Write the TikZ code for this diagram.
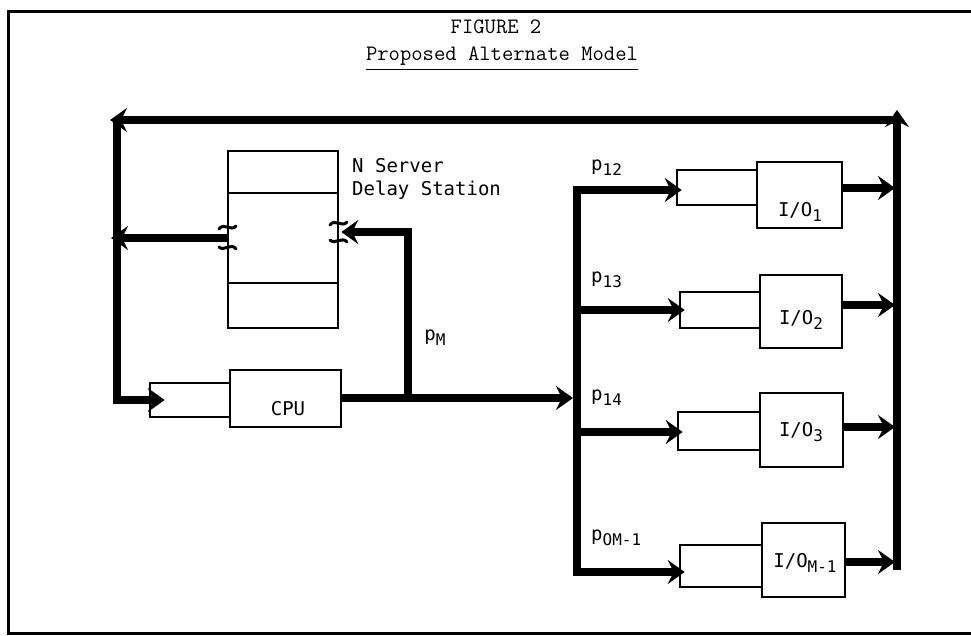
\documentclass[tikz,border=0pt]{standalone}
\usepackage{fontspec}
\usetikzlibrary{arrows.meta}
\newfontfamily\lblfont{DejaVu Sans Mono}
\newcommand{\lowsub}[1]{\raisebox{-5pt}{\fontsize{16}{16}\selectfont #1}}
\begin{document}
\begin{tikzpicture}[x=1pt,y=-1pt,
  flow/.style={line width=8pt, line join=miter},
  tipped/.style={flow, -{Stealth[length=17pt,width=24pt,inset=6pt]}},
  bx/.style={draw, line width=2.6pt, inner sep=0pt},
  frm/.style={line width=3pt},
  lbl/.style={font=\lblfont\fontsize{19}{23}\selectfont, inner sep=0pt},
  ttl/.style={font=\ttfamily\fontsize{22}{26}\selectfont, inner sep=0pt},
  squig/.style={line width=3pt, line cap=round}]
\useasboundingbox (0,0) rectangle (971,635);
% frame
\draw[frm] (971,11) -- (8,11) -- (8,633) -- (971,633);
% titles
\node[ttl] (t1) at (496,27) {FIGURE 2};
\node[ttl] (t2) at (502,56) {Proposed Alternate Model};
\draw[line width=1.6pt] ([yshift=-4pt]t2.south west) -- ([yshift=-4pt]t2.south east);
% delay station
\node[bx, minimum width=110pt, minimum height=177pt] (ds) at (283,239.5) {};
\draw[line width=2.6pt] (228,193) -- (338,193);
\draw[line width=2.6pt] (228,283) -- (338,283);
\node[lbl, anchor=west, align=left] (dsl) at (352,178.5) {N Server\\Delay Station};
% CPU
\node[bx, minimum width=80pt, minimum height=34pt] (cq) at (190,400) {};
\node[bx, minimum width=111pt, minimum height=57pt] (cpu) at (285.5,398.5) {};
\node[lbl] (cput) at (288,409) {CPU};
% IO stations
\node[bx, minimum width=80pt, minimum height=35pt] (q1) at (717,187.5) {};
\node[bx, minimum width=85pt, minimum height=66pt] (s1) at (799.5,195) {};
\node[bx, minimum width=80pt, minimum height=36pt] (q2) at (720,310) {};
\node[bx, minimum width=82pt, minimum height=73pt] (s2) at (801,311.5) {};
\node[bx, minimum width=82pt, minimum height=38pt] (q3) at (719,431) {};
\node[bx, minimum width=83pt, minimum height=74pt] (s3) at (801.5,430) {};
\node[bx, minimum width=82pt, minimum height=42pt] (q4) at (721,566) {};
\node[bx, minimum width=83pt, minimum height=74pt] (s4) at (803.5,560) {};
\node[lbl] (s1t) at (800,212) {I/O\lowsub{1}};
\node[lbl] (s2t) at (801,320) {I/O\lowsub{2}};
\node[lbl] (s3t) at (801,432) {I/O\lowsub{3}};
\node[lbl] (s4t) at (805,563) {I/O\lowsub{M-1}};
% coordinates of the lines
\coordinate (tr) at (897,120);
\coordinate (tl) at (117,120);
\coordinate (lv) at (117,238);
\coordinate (lb) at (117,400);
\coordinate (split) at (408,398);
\coordinate (sp2) at (408,232);
\coordinate (dv1) at (577,190);
\coordinate (dv2) at (577,310);
\coordinate (dv3) at (577,432);
\coordinate (dv4) at (577,572);
\coordinate (rv1) at (897,188);
\coordinate (rv2) at (897,305);
\coordinate (rv3) at (897,427);
\coordinate (rv4) at (897,562);
\coordinate (rvb) at (897,570);
% feedback loop
\draw[tipped] (rvb) -- (897,110);
\draw[tipped] (tr) -- (110,120);
\draw[flow] (tl) -- (lb);
\draw[tipped] (113,400) -- ([xshift=16pt]cq.west);
% delay station connections
\draw[tipped] (ds.west |- lv) -- (111,238);
\draw[tipped] (split) -- (sp2) -- ([xshift=2pt]ds.east |- sp2);
% squiggles on delay box
\draw[squig] (219,229) .. controls (224,222) and (231,232) .. (236,226);
\draw[squig] (219,247) .. controls (224,252) and (231,242) .. (236,249);
\draw[squig] (330,225) .. controls (335,218) and (342,228) .. (347,222);
\draw[squig] (330,240) .. controls (335,245) and (342,236) .. (347,242);
% CPU to distribution
\draw[tipped] (cpu.east |- split) -- (573,398);
\draw[flow] (dv1) -- (dv4);
\draw[tipped] (573,190) -- ([xshift=6pt]q1.west |- dv1);
\draw[tipped] (dv2) -- ([xshift=6pt]q2.west |- dv2);
\draw[tipped] (dv3) -- ([xshift=6pt]q3.west |- dv3);
\draw[tipped] (573,572) -- ([xshift=6pt]q4.west |- dv4);
% outputs
\draw[tipped] (s1.east |- rv1) -- ([xshift=-2pt]rv1);
\draw[tipped] (s2.east |- rv2) -- ([xshift=-2pt]rv2);
\draw[tipped] (s3.east |- rv3) -- ([xshift=-2pt]rv3);
\draw[tipped] (s4.east |- rv4) -- ([xshift=-2pt]rv4);
% labels
\node[lbl] (pm) at (435,338) {p\lowsub{M}};
\node[lbl, anchor=west] (p12) at (591,168) {p\lowsub{12}};
\node[lbl, anchor=west] (p13) at (591,280) {p\lowsub{13}};
\node[lbl, anchor=west] (p14) at (591,398) {p\lowsub{14}};
\node[lbl, anchor=west] (p1m) at (591,538) {p\lowsub{OM-1}};
\end{tikzpicture}
\end{document}
